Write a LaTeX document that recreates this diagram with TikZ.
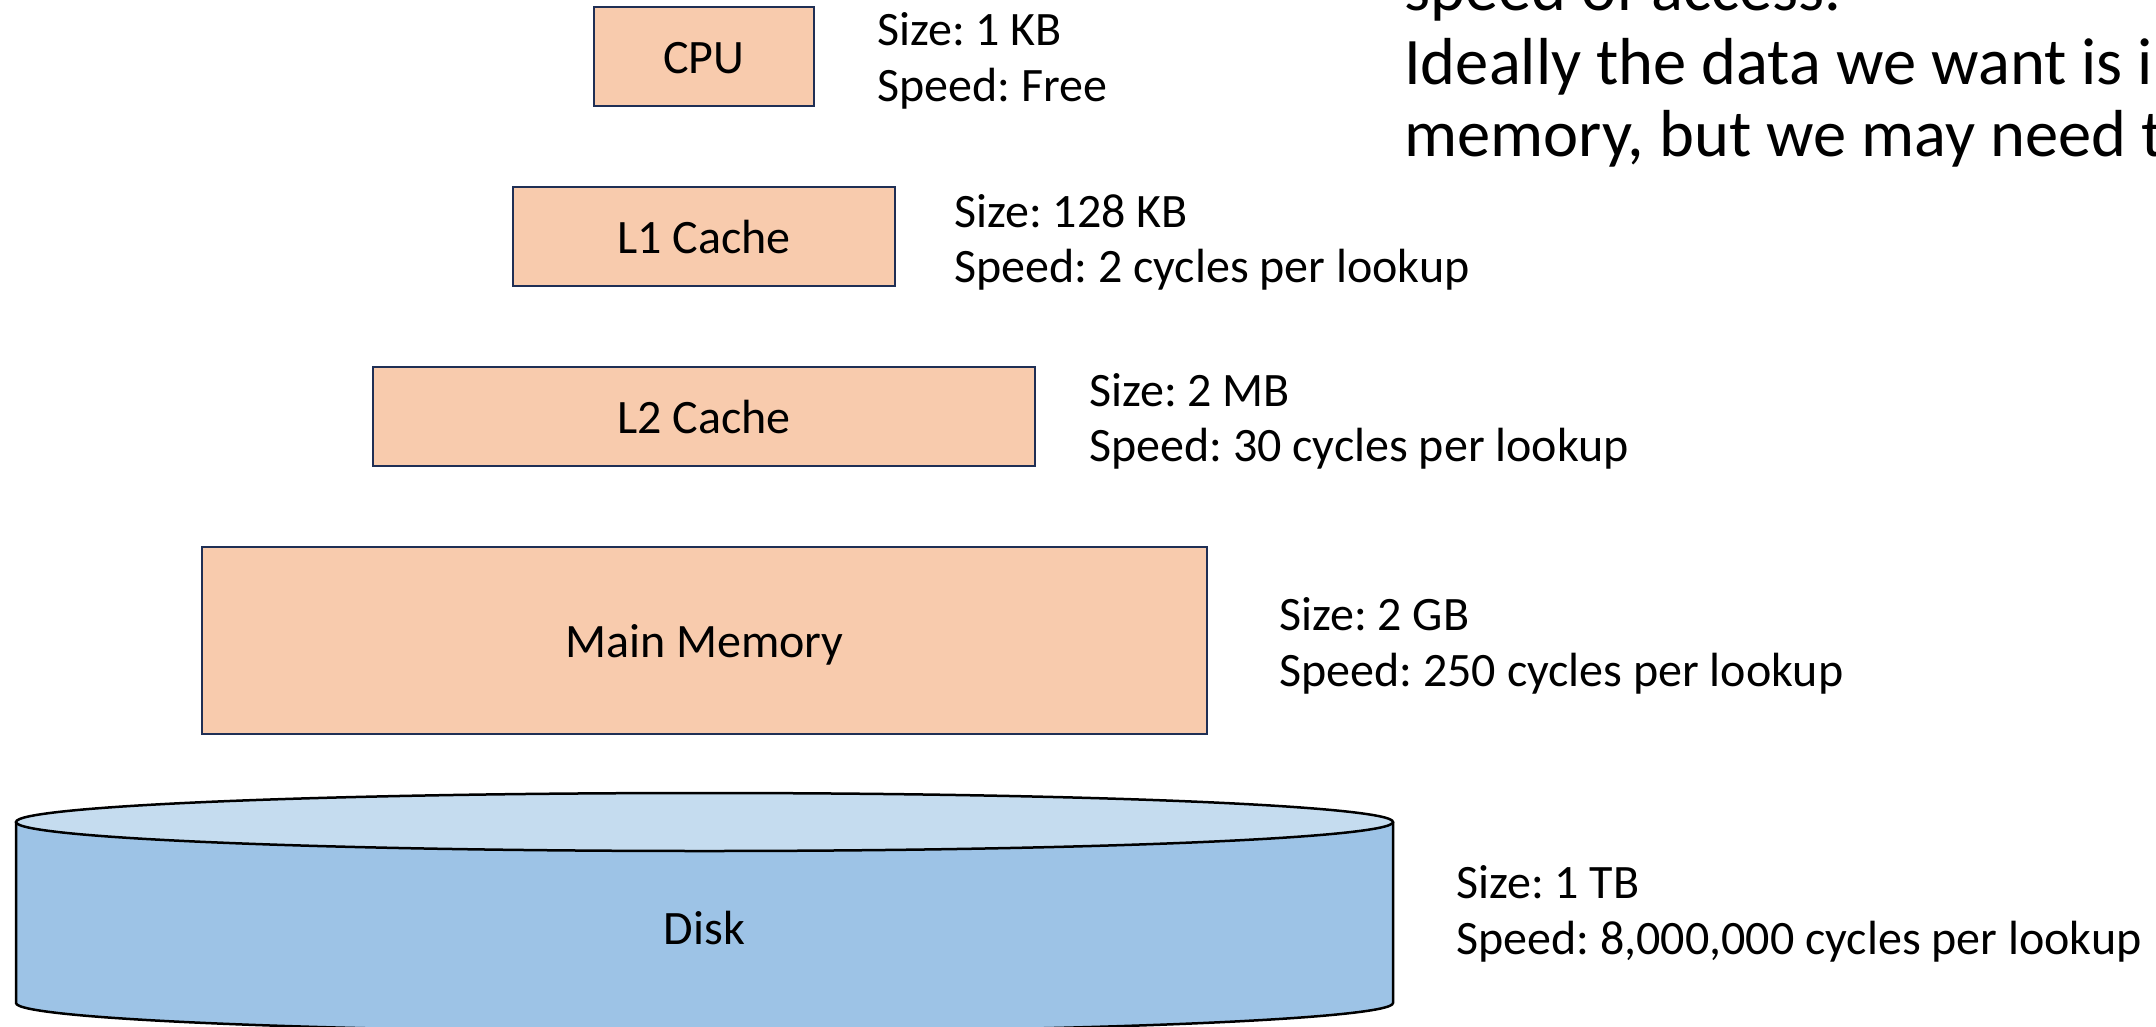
\documentclass[tikz,border=0pt]{standalone}
\usepackage{fontspec}
\setmainfont{Carlito}
\frenchspacing
\definecolor{peach}{HTML}{F8CBAD}
\definecolor{boxline}{HTML}{1F2F55}
\definecolor{diskbody}{HTML}{9DC3E6}
\definecolor{disktop}{HTML}{C5DCEF}
\tikzset{
  levelbox/.style={draw=boxline, fill=peach, line width=2.5pt, inner sep=0pt, text height=34pt, text depth=0pt, font=\fontsize{48}{58}\selectfont},
  info/.style={anchor=base west, inner sep=0pt, font=\fontsize{48}{58}\selectfont},
  bigtext/.style={anchor=base west, inner sep=0pt, font=\fontsize{66.5}{73}\selectfont},
}
\begin{document}
\begin{tikzpicture}[x=1pt,y=-1pt]
\clip (0,0) rectangle (2156,1026);
\fill[white] (0,0) rectangle (2156,1026);

% boxes
\node[levelbox, minimum width=220pt, minimum height=99pt] (cpu) at (704,56.5) {CPU};
\node[levelbox, minimum width=382pt, minimum height=99pt] (l1) at (704,236.5) {L1 Cache};
\node[levelbox, minimum width=662pt, minimum height=99pt] (l2) at (704,416.5) {L2 Cache};
\node[levelbox, minimum width=1005pt, minimum height=187pt] (mm) at (704.5,640.5) {Main Memory};

% disk cylinder
\fill[diskbody] (16,822) -- (16,1003) arc[start angle=180, end angle=0, x radius=688.5, y radius=29] -- (1393,822) -- cycle;
\draw[line width=2.5pt, line join=round] (16,822) -- (16,1003) arc[start angle=180, end angle=0, x radius=688.5, y radius=29] -- (1393,822);
\draw[line width=2.5pt, fill=disktop] (704.5,822) ellipse[x radius=688.5, y radius=29];
\node[inner sep=0pt, font=\fontsize{48}{58}\selectfont] (disk) at (704.5,928) {Disk};

% info labels
\node[info] (cpusize) at (877,45) {Size: 1 KB};
\node[info] (cpuspeed) at (877,101.5) {Speed: Free};
\node[info] (l1size) at (954,227) {Size: 128 KB};
\node[info] (l1speed) at (954,282.5) {Speed: 2 cycles per lookup};
\node[info] (l2size) at (1089,406) {Size: 2 MB};
\node[info] (l2speed) at (1089,461.5) {Speed: 30 cycles per lookup};
\node[info] (mmsize) at (1279,630) {Size: 2 GB};
\node[info] (mmspeed) at (1279,686.5) {Speed: 250 cycles per lookup};
\node[info] (disksize) at (1456,898) {Size: 1 TB};
\node[info] (diskspeed) at (1456,954.5) {Speed: 8,000,000 cycles per lookup};

% clipped paragraph at top right
\node[bigtext] (line1) at (1404,10) {speed of access.};
\node[bigtext] (line2) at (1404,84) {Ideally the data we want is i};
\node[bigtext] (line3) at (1404,156) {memory, but we may need t};
\end{tikzpicture}
\end{document}
